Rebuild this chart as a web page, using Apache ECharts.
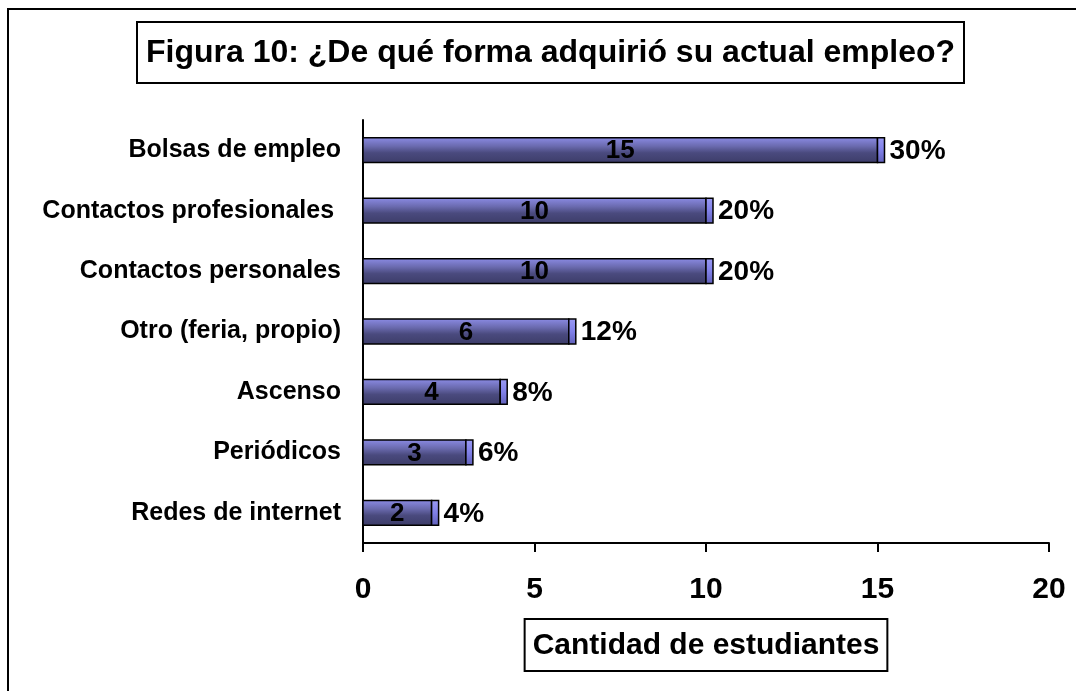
<!DOCTYPE html>
<html>
<head>
<meta charset="utf-8">
<script src="https://cdn.jsdelivr.net/npm/echarts@6/dist/echarts.min.js"></script>
<style>
  html, body { margin: 0; padding: 0; background: #fff; }
  #chart_div { width: 1076px; height: 691px; }
</style>
</head>
<body>
<div id="chart_div"></div>
<script>
(function() {
  'use strict';

  // data
  var categories = ['Bolsas de empleo', 'Contactos profesionales ', 'Contactos personales',
    'Otro (feria, propio)', 'Ascenso', 'Periódicos', 'Redes de internet'];
  var students = [15, 10, 10, 6, 4, 3, 2];
  var percents = ['30%', '20%', '20%', '12%', '8%', '6%', '4%'];
  var xTicks = [0, 5, 10, 15, 20];

  var font = 'Liberation Sans, Arial, sans-serif';

  var barFill = new echarts.graphic.LinearGradient(0, 0, 0, 1, [
    {offset: 0, color: '#8c8ce6'},
    {offset: 0.35, color: '#6a6aae'},
    {offset: 0.6, color: '#4a4a7e'},
    {offset: 1, color: '#3c3c68'}
  ]);
  var capFill = new echarts.graphic.LinearGradient(0, 0, 0, 1, [
    {offset: 0, color: '#9a9af4'},
    {offset: 0.5, color: '#8080e8'},
    {offset: 1, color: '#6060b8'}
  ]);

  function renderBar(params, api) {
    var v = api.value(0);
    var idx = api.value(1);
    var start = api.coord([0, idx]);
    var end = api.coord([v, idx]);
    var h = api.size([0, 1])[1] * 0.41;
    var top = start[1] - h / 2;
    var capW = 7;
    return {
      type: 'group',
      children: [
        {
          type: 'rect',
          shape: {x: start[0], y: top, width: end[0] - start[0], height: h},
          style: {fill: barFill, stroke: '#000', lineWidth: 1.5}
        },
        {
          type: 'rect',
          shape: {x: end[0], y: top, width: capW, height: h},
          style: {fill: capFill, stroke: '#000', lineWidth: 1.5}
        },
        {
          type: 'text',
          style: {
            x: (start[0] + end[0]) / 2, y: start[1] + 1,
            text: String(v), align: 'center', verticalAlign: 'middle',
            font: 'bold 26px ' + font, fill: '#000'
          }
        },
        {
          type: 'text',
          style: {
            x: end[0] + capW + 5, y: start[1] + 1,
            text: percents[params.dataIndex], align: 'left', verticalAlign: 'middle',
            font: 'bold 28px ' + font, fill: '#000'
          }
        }
      ]
    };
  }

  var chart = echarts.init(document.getElementById('chart_div'));
  var option = {
    backgroundColor: '#fff',
    animation: false,
    title: {
      text: 'Figura 10: ¿De qué forma adquirió su actual empleo?',
      left: 137,
      top: 22,
      padding: [15, 9, 14, 9],
      borderColor: '#000',
      borderWidth: 2,
      textStyle: {fontFamily: font, fontWeight: 'bold', fontSize: 32, color: '#000'}
    },
    graphic: [
      {
        type: 'rect',
        shape: {x: 8, y: 9, width: 1200, height: 800},
        style: {fill: 'none', stroke: '#000', lineWidth: 2}
      }
    ],
    grid: {left: 363, right: 27, top: 120, bottom: 148},
    xAxis: {
      type: 'value',
      min: xTicks[0],
      max: xTicks[xTicks.length - 1],
      interval: xTicks[1] - xTicks[0],
      splitLine: {show: false},
      axisLine: {show: true, lineStyle: {color: '#000', width: 2}},
      axisTick: {show: true, length: 9, lineStyle: {color: '#000', width: 2}},
      axisLabel: {margin: 32, color: '#000', fontFamily: font, fontWeight: 'bold', fontSize: 30},
      name: 'Cantidad de estudiantes',
      nameLocation: 'middle',
      nameGap: 76,
      nameTextStyle: {
        color: '#000', fontFamily: font, fontWeight: 'bold', fontSize: 30,
        borderColor: '#000', borderWidth: 2, padding: [12, 8, 10, 8]
      }
    },
    yAxis: {
      type: 'category',
      inverse: true,
      data: categories,
      axisLine: {show: true, lineStyle: {color: '#000', width: 2}},
      axisTick: {show: false},
      axisLabel: {margin: 22, color: '#000', fontFamily: font, fontWeight: 'bold', fontSize: 25}
    },
    series: [
      {
        type: 'custom',
        renderItem: renderBar,
        encode: {x: 0, y: 1},
        data: students.map(function(v, i) { return [v, i]; })
      }
    ]
  };
  chart.setOption(option);
})();
</script>
</body>
</html>
